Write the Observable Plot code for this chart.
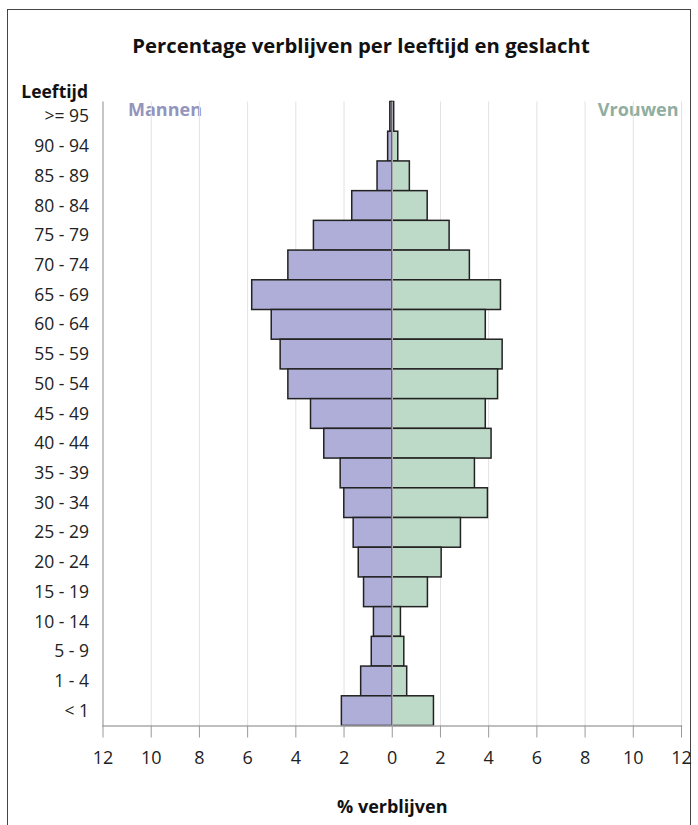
<!DOCTYPE html>
<html>
<head>
<meta charset="utf-8">
<script src="https://cdn.jsdelivr.net/npm/d3@7"></script>
<script src="https://cdn.jsdelivr.net/npm/@observablehq/plot@0.6"></script>
<style>
  html, body { margin: 0; padding: 0; background: #fff; }
  body { width: 698px; height: 825px; overflow: hidden; position: relative; font-family: "Open Sans", sans-serif; }
  #frame { position: absolute; left: 7px; top: 9px; width: 684px; height: 840px; border: 1.5px solid #444; box-sizing: border-box; }
  #title { position: absolute; left: 0; width: 722px; top: 31px; text-align: center; font-weight: bold; font-size: 20.3px; line-height: 28px; color: #111; }
  #chart { position: absolute; left: 0; top: 0; }
</style>
</head>
<body>
<div id="frame"></div>
<div id="chart"></div>
<div id="title">Percentage verblijven per leeftijd en geslacht</div>
<script>
const ageGroups = [">= 95", "90 - 94", "85 - 89", "80 - 84", "75 - 79", "70 - 74", "65 - 69", "60 - 64", "55 - 59", "50 - 54", "45 - 49", "40 - 44", "35 - 39", "30 - 34", "25 - 29", "20 - 24", "15 - 19", "10 - 14", "5 - 9", "1 - 4", "< 1"];
const men   = [0.08, 0.17, 0.61, 1.66, 3.25, 4.31, 5.81, 5.00, 4.63, 4.31, 3.37, 2.82, 2.14, 1.99, 1.60, 1.39, 1.17, 0.76, 0.85, 1.29, 2.09];
const women = [0.08, 0.25, 0.73, 1.47, 2.38, 3.22, 4.51, 3.88, 4.58, 4.39, 3.88, 4.12, 3.43, 3.97, 2.85, 2.05, 1.48, 0.36, 0.50, 0.62, 1.73];
const xTicks = [-12, -10, -8, -6, -4, -2, 0, 2, 4, 6, 8, 10, 12];

const menData = ageGroups.map((a, i) => ({age: a, value: men[i]}));
const womenData = ageGroups.map((a, i) => ({age: a, value: women[i]}));

const font = "Open Sans, sans-serif";
const chart = Plot.plot({
  width: 698,
  height: 825,
  marginLeft: 102.5,
  marginRight: 17,
  marginTop: 101.5,
  marginBottom: 99.5,
  style: {fontFamily: font, fontSize: "17px", color: "#222", background: "transparent"},
  x: {domain: [-12, 12], label: null},
  y: {domain: ageGroups, padding: 0, round: false, label: null},
  marks: [
    Plot.text(["Mannen"], {frameAnchor: "top-left", dx: 25, dy: 1, fill: "#9494bd", fontWeight: "bold", fontSize: 18, textAnchor: "start", lineAnchor: "top"}),
    Plot.text(["Vrouwen"], {frameAnchor: "top-right", dx: -3, dy: 1, fill: "#8fae9f", fontWeight: "bold", fontSize: 18, textAnchor: "end", lineAnchor: "top"}),
    Plot.gridX(xTicks, {stroke: "#e2e2e2", strokeOpacity: 1, strokeWidth: 1}),
    Plot.barX(menData, {y: "age", x1: d => -d.value, x2: 0, fill: "#aeaed9", stroke: "#222", strokeWidth: 1.5}),
    Plot.barX(womenData, {y: "age", x1: 0, x2: "value", fill: "#bdd9c7", stroke: "#222", strokeWidth: 1.5}),
    Plot.ruleX([0], {stroke: "#aaa", strokeWidth: 1.5}),
    Plot.frame({anchor: "left", stroke: "#999", strokeWidth: 1}),
    Plot.frame({anchor: "bottom", stroke: "#aaa", strokeWidth: 1.5}),
    Plot.axisX({ticks: xTicks, tickFormat: d => Math.abs(d), tickSize: 12, tickPadding: 13, stroke: "#999", fontSize: 18, label: null}),
    Plot.axisY({tickSize: 0, tickPadding: 14, fontSize: 17.5, label: null}),
    Plot.text(["Leeftijd"], {frameAnchor: "top-left", dx: -15, dy: -9.5, fill: "#111", fontWeight: "bold", fontSize: 17.5, textAnchor: "end", lineAnchor: "middle"}),
    Plot.text(["% verblijven"], {frameAnchor: "bottom", dy: 81, fill: "#111", fontWeight: "bold", fontSize: 18, lineAnchor: "middle"})
  ]
});
document.getElementById("chart").appendChild(chart);
</script>
</body>
</html>
